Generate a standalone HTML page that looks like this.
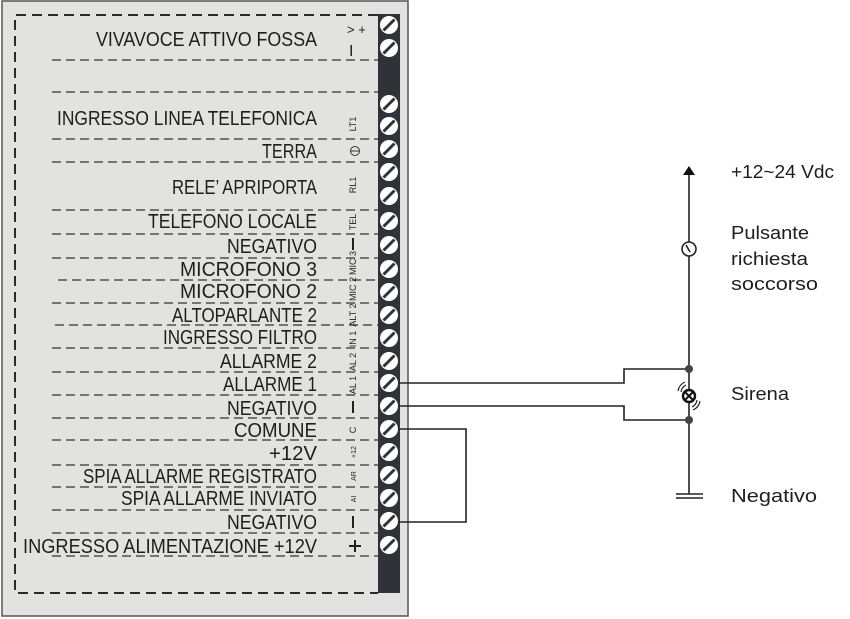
<!DOCTYPE html>
<html><head><meta charset="utf-8"><style>
html,body{margin:0;padding:0;background:#fff;width:850px;height:619px;overflow:hidden}
svg{display:block}
text{font-family:"Liberation Sans",sans-serif;fill:#1e1e1e}
</style></head><body>
<svg width="850" height="619" viewBox="0 0 850 619" xmlns="http://www.w3.org/2000/svg">
<defs>
<g id="scr"><circle r="9" fill="#fff"/><line x1="-5.5" y1="5.5" x2="5.5" y2="-5.5" stroke="#2e3338" stroke-width="3"/></g>
</defs>
<rect x="2" y="1" width="406" height="615" fill="#e2e2e0" stroke="#555" stroke-width="1.5"/>
<path d="M378 15 H15 V593 H378" fill="none" stroke="#2a2a2a" stroke-width="2" stroke-dasharray="10,6"/>
<rect x="378" y="14" width="22" height="579" fill="#2e3338"/>
<g stroke="#333" stroke-width="1.3" stroke-dasharray="9,5" fill="none">
<line x1="52" y1="60" x2="378" y2="60"/><line x1="52" y1="92" x2="378" y2="92"/>
<line x1="52" y1="139" x2="378" y2="139"/><line x1="52" y1="162" x2="378" y2="162"/>
<line x1="52" y1="210" x2="378" y2="210"/><line x1="52" y1="234" x2="378" y2="234"/>
<line x1="52" y1="258" x2="378" y2="258"/><line x1="58" y1="280" x2="378" y2="280"/>
<line x1="52" y1="303" x2="378" y2="303"/><line x1="55" y1="325" x2="378" y2="325"/>
<line x1="52" y1="348" x2="378" y2="348"/><line x1="52" y1="372" x2="378" y2="372"/>
<line x1="52" y1="395" x2="378" y2="395"/><line x1="52" y1="418" x2="378" y2="418"/>
<line x1="52" y1="440" x2="378" y2="440"/><line x1="52" y1="465" x2="378" y2="465"/>
<line x1="52" y1="487" x2="378" y2="487"/><line x1="52" y1="510" x2="378" y2="510"/>
<line x1="52" y1="533" x2="378" y2="533"/><line x1="52" y1="556" x2="378" y2="556"/>
</g>
<g font-size="20" text-anchor="end">
<text x="317" y="46" textLength="221" lengthAdjust="spacingAndGlyphs">VIVAVOCE ATTIVO FOSSA</text>
<text x="317" y="125" textLength="260" lengthAdjust="spacingAndGlyphs">INGRESSO LINEA TELEFONICA</text>
<text x="317" y="158" textLength="55" lengthAdjust="spacingAndGlyphs">TERRA</text>
<text x="317" y="194" textLength="145" lengthAdjust="spacingAndGlyphs">RELE’ APRIPORTA</text>
<text x="317" y="228" textLength="169" lengthAdjust="spacingAndGlyphs">TELEFONO LOCALE</text>
<text x="317" y="253" textLength="90" lengthAdjust="spacingAndGlyphs">NEGATIVO</text>
<text x="317" y="276" textLength="137" lengthAdjust="spacingAndGlyphs">MICROFONO 3</text>
<text x="317" y="298" textLength="137" lengthAdjust="spacingAndGlyphs">MICROFONO 2</text>
<text x="317" y="322" textLength="145" lengthAdjust="spacingAndGlyphs">ALTOPARLANTE 2</text>
<text x="317" y="344" textLength="154" lengthAdjust="spacingAndGlyphs">INGRESSO FILTRO</text>
<text x="317" y="368" textLength="97" lengthAdjust="spacingAndGlyphs">ALLARME 2</text>
<text x="317" y="391" textLength="94" lengthAdjust="spacingAndGlyphs">ALLARME 1</text>
<text x="317" y="415" textLength="90" lengthAdjust="spacingAndGlyphs">NEGATIVO</text>
<text x="317" y="437" textLength="83" lengthAdjust="spacingAndGlyphs">COMUNE</text>
<text x="317" y="460" textLength="48" lengthAdjust="spacingAndGlyphs">+12V</text>
<text x="317" y="483" textLength="234" lengthAdjust="spacingAndGlyphs">SPIA ALLARME REGISTRATO</text>
<text x="317" y="505" textLength="196" lengthAdjust="spacingAndGlyphs">SPIA ALLARME INVIATO</text>
<text x="317" y="529" textLength="90" lengthAdjust="spacingAndGlyphs">NEGATIVO</text>
<text x="317" y="553" textLength="294" lengthAdjust="spacingAndGlyphs">INGRESSO ALIMENTAZIONE +12V</text>
</g>
<g font-size="9" fill="#333">
<text x="347" y="34" font-size="13">&gt; +</text>
<text x="349" y="56" font-size="16">I</text>
<text x="356" y="124" transform="rotate(-90 356 124)" text-anchor="middle">LT1</text>
<circle cx="355" cy="151" r="4.5" fill="none" stroke="#333" stroke-width="1"/><line x1="350.5" y1="151" x2="359.5" y2="151" stroke="#333" stroke-width="1"/>
<text x="356" y="185" transform="rotate(-90 356 185)" text-anchor="middle">RL1</text>
<text x="356" y="222" transform="rotate(-90 356 222)" text-anchor="middle">TEL</text>
<text x="356" y="263" transform="rotate(-90 356 263)" text-anchor="middle">MIC 3</text>
<text x="356" y="289" transform="rotate(-90 356 289)" text-anchor="middle">MIC 2</text>
<text x="356" y="315" transform="rotate(-90 356 315)" text-anchor="middle">ALT 2</text>
<text x="356" y="339" transform="rotate(-90 356 339)" text-anchor="middle">IN  1</text>
<text x="356" y="362" transform="rotate(-90 356 362)" text-anchor="middle">AL  2</text>
<text x="356" y="385" transform="rotate(-90 356 385)" text-anchor="middle">AL  1</text>
<text x="356" y="430" transform="rotate(-90 356 430)" text-anchor="middle">C</text>
<text x="356" y="452" transform="rotate(-90 356 452)" text-anchor="middle" font-size="7">+12</text>
<text x="356" y="476" transform="rotate(-90 356 476)" text-anchor="middle" font-size="7">AR</text>
<text x="356" y="499" transform="rotate(-90 356 499)" text-anchor="middle" font-size="7">AI</text>
</g>
<g stroke="#222" stroke-width="2">
<line x1="353" y1="238" x2="353" y2="250"/><line x1="353" y1="401" x2="353" y2="413"/>
<line x1="353" y1="516" x2="353" y2="528"/>
<line x1="349" y1="546" x2="361" y2="546"/><line x1="355" y1="540" x2="355" y2="552"/>
</g>
<g>
<use href="#scr" x="389" y="25"/><use href="#scr" x="389" y="48"/>
<use href="#scr" x="389" y="104"/><use href="#scr" x="389" y="126"/>
<use href="#scr" x="389" y="149"/><use href="#scr" x="389" y="172"/>
<use href="#scr" x="389" y="196"/><use href="#scr" x="389" y="221"/>
<use href="#scr" x="389" y="245"/><use href="#scr" x="389" y="269"/>
<use href="#scr" x="389" y="292"/><use href="#scr" x="389" y="315"/>
<use href="#scr" x="389" y="338"/><use href="#scr" x="389" y="361"/>
<use href="#scr" x="389" y="383"/><use href="#scr" x="389" y="406"/>
<use href="#scr" x="389" y="429"/><use href="#scr" x="389" y="452"/>
<use href="#scr" x="389" y="475"/><use href="#scr" x="389" y="498"/>
<use href="#scr" x="389" y="521"/><use href="#scr" x="389" y="545"/>
</g>
<g fill="none" stroke="#222" stroke-width="1.6">
<polyline points="398,383 624,383 624,369 689,369"/>
<polyline points="398,406 624,406 624,420 689,420"/>
<polyline points="398,429 466,429 466,522 398,522"/>
<line x1="689" y1="172" x2="689" y2="242"/>
<line x1="689" y1="256" x2="689" y2="390"/>
<line x1="689" y1="402" x2="689" y2="494"/>
<circle cx="689" cy="249" r="7"/>
<line x1="686" y1="245" x2="690" y2="252"/>
<line x1="676" y1="494" x2="703" y2="494"/><line x1="676" y1="498" x2="703" y2="498"/>
</g>
<polygon points="689,166 683,175 695,175" fill="#111"/>
<circle cx="689" cy="369" r="4" fill="#3b4650"/><circle cx="689" cy="420" r="4" fill="#3b4650"/>
<circle cx="689" cy="396" r="6" fill="#fff" stroke="#111" stroke-width="2.4"/>
<line x1="685" y1="392" x2="693" y2="400" stroke="#111" stroke-width="2"/><line x1="693" y1="392" x2="685" y2="400" stroke="#111" stroke-width="2"/>
<g fill="none" stroke="#222" stroke-width="1.2">
<path d="M681 392 A9 9 0 0 1 686 385"/><path d="M678 391 A12 12 0 0 1 685 382"/>
<path d="M697 400 A9 9 0 0 1 692 407"/><path d="M700 401 A12 12 0 0 1 693 410"/>
</g>
<g font-size="18" fill="#222">
<text x="731" y="178" textLength="103" lengthAdjust="spacingAndGlyphs">+12~24 Vdc</text>
<text x="731" y="239" textLength="78" lengthAdjust="spacingAndGlyphs">Pulsante</text>
<text x="731" y="265" textLength="77" lengthAdjust="spacingAndGlyphs">richiesta</text>
<text x="731" y="290" textLength="87" lengthAdjust="spacingAndGlyphs">soccorso</text>
<text x="731" y="400" textLength="58" lengthAdjust="spacingAndGlyphs">Sirena</text>
<text x="731" y="502" textLength="86" lengthAdjust="spacingAndGlyphs">Negativo</text>
</g>
</svg>
</body></html>
